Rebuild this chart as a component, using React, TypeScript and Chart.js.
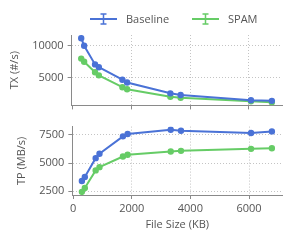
import React, { useEffect, useRef } from "react";
import { Chart, registerables } from "chart.js";

Chart.register(...registerables);

const fileSizes = [300, 400, 770, 900, 1700, 1860, 3330, 3680, 6070, 6780];
const txBaseline = [11190, 10000, 7050, 6610, 4630, 4190, 2480, 2210, 1400, 1290];
const txSpam = [7970, 7480, 5800, 5320, 3450, 3130, 1940, 1770, 1240, 1080];
const tpBaseline = [3410, 3760, 5440, 5830, 7380, 7590, 7970, 7880, 7680, 7820];
const tpSpam = [2440, 2790, 4350, 4640, 5590, 5740, 6030, 6090, 6270, 6320];
const xTicks = [0, 2000, 4000, 6000];
const txTicks = [5000, 10000];
const tpTicks = [2500, 5000, 7500];
const seriesNames = ["Baseline", "SPAM"];

const BLUE = "#4a72d6";
const GREEN = "#66cc66";
const TEXT = "#555555";
const AXIS = "#8a8a8a";
const GRID = "#c4c4c4";
const FONT = '"Open Sans", "DejaVu Sans", sans-serif';

const pts = (ys: number[]) => fileSizes.map((x, i) => ({ x, y: ys[i] }));

const ds = (label: string, ys: number[], color: string) => ({
  label,
  data: pts(ys),
  borderColor: color,
  backgroundColor: color,
  borderWidth: 2,
  pointRadius: 2.2,
  pointHoverRadius: 2.2,
  pointStyle: "circle",
  showLine: true,
  tension: 0,
});

const legendPlugin = {
  id: "customLegend",
  afterDraw(chart: any) {
    const ctx = chart.ctx;
    const items = [
      { label: seriesNames[0], color: BLUE, x0: 90 },
      { label: seriesNames[1], color: GREEN, x0: 192 },
    ];
    ctx.save();
    const y = 19;
    for (const it of items) {
      ctx.strokeStyle = it.color;
      ctx.lineWidth = 2;
      ctx.beginPath();
      ctx.moveTo(it.x0, y);
      ctx.lineTo(it.x0 + 27, y);
      ctx.stroke();
      const cx = it.x0 + 13.5;
      ctx.lineWidth = 1.5;
      ctx.beginPath();
      ctx.moveTo(cx, y - 5);
      ctx.lineTo(cx, y + 5);
      ctx.moveTo(cx - 3, y - 5);
      ctx.lineTo(cx + 3, y - 5);
      ctx.moveTo(cx - 3, y + 5);
      ctx.lineTo(cx + 3, y + 5);
      ctx.stroke();
      ctx.fillStyle = TEXT;
      ctx.font = `11px ${FONT}`;
      ctx.textBaseline = "middle";
      ctx.fillText(it.label, it.x0 + 36, y + 0.5);
    }
    ctx.restore();
  },
};

function xScale(showLabels: boolean, height: number) {
  return {
    type: "linear",
    min: -25,
    max: 7125,
    afterBuildTicks: (s: any) => {
      s.ticks = xTicks.map((v) => ({ value: v }));
    },
    afterFit: (s: any) => {
      s.height = height;
    },
    grid: {
      color: (c: any) => (c.tick && c.tick.value === 0 ? "rgba(0,0,0,0)" : GRID),
      tickColor: AXIS,
      tickLength: 4,
      lineWidth: 1,
    },
    border: { display: true, color: AXIS, width: 1, dash: [1, 2] },
    ticks: {
      display: showLabels,
      color: TEXT,
      font: { family: FONT, size: 11 },
      padding: 3,
      maxRotation: 0,
      callback: (v: any) => String(v),
    },
    title: {
      display: showLabels,
      text: "File Size (KB)",
      color: TEXT,
      font: { family: FONT, size: 11 },
      padding: { top: 0, bottom: 7 },
    },
  };
}

function yScale(min: number, max: number, ticks: number[], title: string) {
  return {
    type: "linear",
    min,
    max,
    afterBuildTicks: (s: any) => {
      s.ticks = ticks.map((v) => ({ value: v }));
    },
    grid: { color: GRID, tickColor: AXIS, tickLength: 4, lineWidth: 1 },
    border: { display: true, color: AXIS, width: 1, dash: [1, 2] },
    ticks: {
      color: TEXT,
      font: { family: FONT, size: 11 },
      padding: 4,
      callback: (v: any) => String(v),
    },
    title: {
      display: true,
      text: title,
      color: TEXT,
      font: { family: FONT, size: 11 },
      padding: { top: 0, bottom: 7 },
    },
  };
}

export default function App() {
  const topRef = useRef<HTMLCanvasElement>(null);
  const botRef = useRef<HTMLCanvasElement>(null);

  useEffect(() => {
    const common = {
      responsive: false,
      animation: false,
      plugins: { legend: { display: false }, tooltip: { enabled: false } },
    };
    const top = new Chart(topRef.current!, {
      type: "scatter",
      data: {
        datasets: [ds(seriesNames[0], txBaseline, BLUE), ds(seriesNames[1], txSpam, GREEN)],
      },
      options: {
        ...common,
        layout: { padding: { left: 8, right: 9, top: 35, bottom: 0 } },
        scales: {
          x: xScale(false, 9),
          y: yScale(575, 11695, txTicks, "TX (#/s)"),
        },
      } as any,
      plugins: [legendPlugin],
    } as any);
    const bot = new Chart(botRef.current!, {
      type: "scatter",
      data: {
        datasets: [ds(seriesNames[0], tpBaseline, BLUE), ds(seriesNames[1], tpSpam, GREEN)],
      },
      options: {
        ...common,
        layout: { padding: { left: 15, right: 9, top: 7.4, bottom: 4 } },
        scales: {
          x: xScale(true, 43),
          y: yScale(2163, 8247, tpTicks, "TP (MB/s)"),
        },
      } as any,
    } as any);
    return () => {
      top.destroy();
      bot.destroy();
    };
  }, []);

  return (
    <div style={{ position: "fixed", left: 0, top: 0, width: 291, height: 242, background: "#fff" }}>
      <canvas ref={topRef} width={291} height={116} style={{ position: "absolute", left: 0, top: 0, width: 291, height: 116 }} />
      <canvas ref={botRef} width={291} height={126} style={{ position: "absolute", left: 0, top: 116, width: 291, height: 126 }} />
    </div>
  );
}
